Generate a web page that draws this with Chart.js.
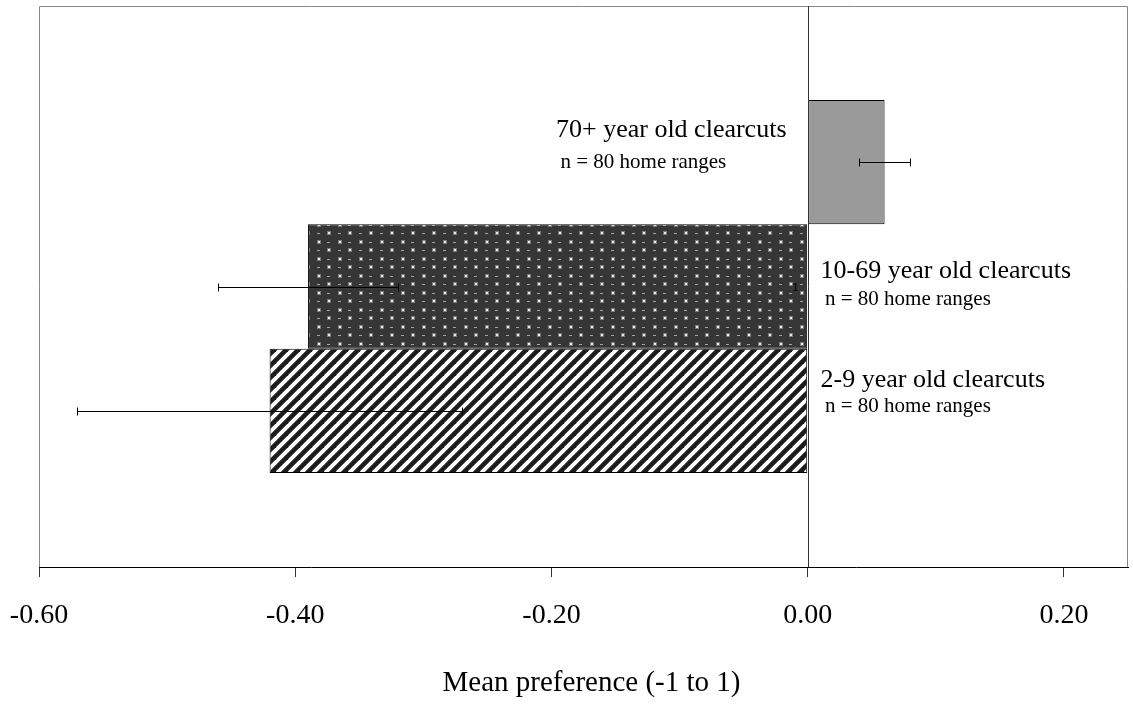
<!DOCTYPE html>
<html>
<head>
<meta charset="utf-8">
<script src="https://cdn.jsdelivr.net/npm/chart.js@4/dist/chart.umd.min.js"></script>
<style>
  html, body { margin: 0; padding: 0; background: #ffffff; }
  canvas { display: block; }
</style>
</head>
<body>
<canvas id="chart" width="1133" height="708"></canvas>
<script>
// Clearcut age classes, top to bottom
const groupNames = ['70+ year old clearcuts', '10-69 year old clearcuts', '2-9 year old clearcuts'];
const sampleNotes = ['n = 80 home ranges', 'n = 80 home ranges', 'n = 80 home ranges'];
// Mean preference index and its error half-width
const meanPreference = [0.06, -0.39, -0.42];
const errorHalfWidth = [0.02, 0.07, 0.15];
// Axis
const tickValues = [-0.6, -0.4, -0.2, 0, 0.2];
const axisMin = -0.6;
const axisMax = 0.25;
const axisTitle = 'Mean preference (-1 to 1)';

const SERIF = '"Liberation Serif", "Times New Roman", serif';

// Fill patterns for the bars
function solidFill() { return '#9a9a9a'; }

function dotFill() {
  const c = document.createElement('canvas');
  c.width = 21; c.height = 17;
  const g = c.getContext('2d');
  g.fillStyle = '#363636';
  g.fillRect(0, 0, 21, 17);
  // bright dots with a soft halo
  g.fillStyle = '#7a7a7a';
  g.fillRect(2, 2, 4, 4);
  g.fillRect(12, 10, 4, 4);
  g.fillStyle = '#ececec';
  g.fillRect(3, 3, 2, 2);
  g.fillRect(13, 11, 2, 2);
  // dimmer dashes in between
  g.fillStyle = '#a4a4a4';
  g.fillRect(12, 4, 3, 1);
  g.fillRect(2, 12, 3, 1);
  return g.createPattern(c, 'repeat');
}

function hatchFill() {
  const s = 12;
  const c = document.createElement('canvas');
  c.width = s; c.height = s;
  const g = c.getContext('2d');
  g.fillStyle = '#ffffff';
  g.fillRect(0, 0, s, s);
  g.strokeStyle = '#1c1c1c';
  g.lineWidth = 4.6;
  for (const k of [0, s, 2 * s]) {
    g.beginPath();
    g.moveTo(-s, k + s);
    g.lineTo(k + s, -s);
    g.stroke();
  }
  return g.createPattern(c, 'repeat');
}

const fills = [solidFill(), dotFill(), hatchFill()];

// Frame, zero line, error bars, bar captions and axis title
const decorations = {
  id: 'decorations',
  beforeDatasetsDraw(chart) {
    const { ctx, chartArea: a } = chart;
    ctx.save();
    ctx.strokeStyle = '#888888';
    ctx.lineWidth = 1;
    ctx.beginPath();
    ctx.moveTo(a.left + 0.5, a.bottom);
    ctx.lineTo(a.left + 0.5, a.top + 0.5);
    ctx.lineTo(a.right - 0.5, a.top + 0.5);
    ctx.lineTo(a.right - 0.5, a.bottom);
    ctx.stroke();
    ctx.restore();
  },
  afterDatasetsDraw(chart, args, opts) {
    const { ctx, chartArea: a } = chart;
    const xs = chart.scales.x;
    const x0 = Math.round(xs.getPixelForValue(0)) + 0.5;
    ctx.save();

    // zero line
    ctx.strokeStyle = '#333333';
    ctx.lineWidth = 1;
    ctx.beginPath();
    ctx.moveTo(x0, a.top);
    ctx.lineTo(x0, a.bottom);
    ctx.stroke();

    // error bars
    ctx.strokeStyle = '#000000';
    meanPreference.forEach((m, i) => {
      const bar = chart.getDatasetMeta(i).data[0];
      const y = Math.round(bar.y) + 0.5;
      const xl = Math.round(xs.getPixelForValue(m - errorHalfWidth[i])) + 0.5;
      const xr = Math.round(xs.getPixelForValue(m + errorHalfWidth[i])) + 0.5;
      ctx.beginPath();
      ctx.moveTo(xl, y); ctx.lineTo(xr, y);
      ctx.moveTo(xl, y - 4); ctx.lineTo(xl, y + 4);
      ctx.moveTo(xr, y - 4); ctx.lineTo(xr, y + 4);
      ctx.stroke();
    });

    // captions beside the zero line
    ctx.fillStyle = '#000000';
    ctx.textBaseline = 'middle';
    ctx.textAlign = 'left';
    groupNames.forEach((name, i) => {
      const bar = chart.getDatasetMeta(i).data[0];
      const [dy1, dy2] = opts.offsets[i];
      ctx.font = '26px ' + SERIF;
      const w = ctx.measureText(name).width;
      const left = meanPreference[i] > 0 ? x0 - 22 - w : x0 + 12;
      ctx.fillText(name, left, bar.y + dy1);
      ctx.font = '21px ' + SERIF;
      ctx.fillText(sampleNotes[i], left + 4.5, bar.y + dy2);
    });

    // small stray label inside the middle bar
    const mid = chart.getDatasetMeta(1).data[0];
    ctx.font = '11px "Liberation Sans", Arial, sans-serif';
    ctx.textAlign = 'center';
    ctx.fillText('1', x0 - 13, mid.y + 1);
    ctx.restore();
  },
  afterDraw(chart) {
    const { ctx, chartArea: a } = chart;
    ctx.save();
    ctx.fillStyle = '#000000';
    ctx.font = '29px ' + SERIF;
    ctx.textAlign = 'center';
    ctx.textBaseline = 'middle';
    ctx.fillText(axisTitle, (a.left + a.right) / 2 + 8, chart.height - 25);
    ctx.restore();
  }
};

new Chart(document.getElementById('chart'), {
  type: 'bar',
  data: {
    labels: [''],
    datasets: groupNames.map((name, i) => ({
      label: name,
      data: [meanPreference[i]],
      backgroundColor: fills[i],
      borderColor: '#000000',
      borderWidth: 1,
      borderSkipped: false,
      categoryPercentage: 0.665,
      barPercentage: 1
    }))
  },
  options: {
    indexAxis: 'y',
    responsive: false,
    devicePixelRatio: 1,
    animation: false,
    layout: { padding: { left: 39, right: 5, top: 6, bottom: 0 } },
    plugins: {
      legend: { display: false },
      tooltip: { enabled: false },
      decorations: { offsets: [[-32, 0], [-15, 12.5], [-31, -4]] }
    },
    scales: {
      y: { display: false },
      x: {
        type: 'linear',
        min: axisMin,
        max: axisMax,
        afterBuildTicks(scale) { scale.ticks = tickValues.map(v => ({ value: v })); },
        afterFit(scale) {
          scale.height = 141;
          scale.paddingLeft = 0;
          scale.paddingRight = 0;
        },
        grid: {
          display: true,
          drawOnChartArea: false,
          drawTicks: true,
          tickLength: 10,
          color: '#333333'
        },
        border: { display: true, color: '#000000', width: 1 },
        ticks: {
          padding: 22,
          color: '#000000',
          font: { family: SERIF, size: 28 },
          maxRotation: 0,
          autoSkip: false,
          callback: v => v.toFixed(2)
        },
        title: { display: false }
      }
    }
  },
  plugins: [decorations]
});
</script>
</body>
</html>
